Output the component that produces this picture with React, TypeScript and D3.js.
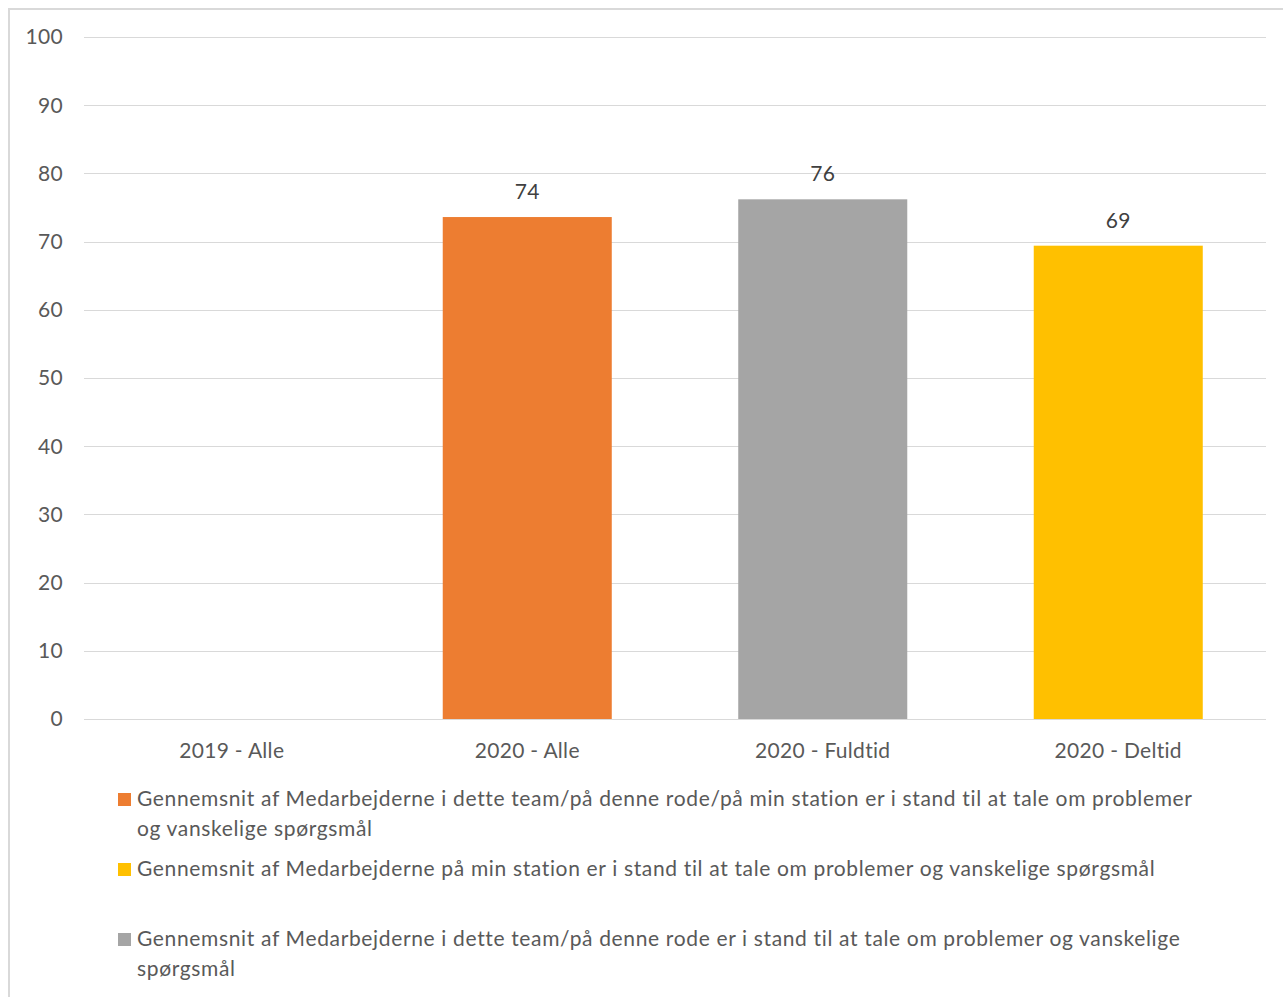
import React, { useEffect, useRef } from "react";
import * as d3 from "d3";

const categories = ["2019 - Alle", "2020 - Alle", "2020 - Fuldtid", "2020 - Deltid"];
const barValues: (number | null)[] = [null, 73.6, 76.2, 69.4];
const barLabels: (string | null)[] = [null, "74", "76", "69"];
const barSeries: (number | null)[] = [null, 0, 2, 1];
const yTicks = [0, 10, 20, 30, 40, 50, 60, 70, 80, 90, 100];
const seriesNames = [
  "Gennemsnit af Medarbejderne i dette team/på denne rode/på min station er i stand til at tale om problemer og vanskelige spørgsmål",
  "Gennemsnit af Medarbejderne på min station er i stand til at tale om problemer og vanskelige spørgsmål",
  "Gennemsnit af Medarbejderne i dette team/på denne rode er i stand til at tale om problemer og vanskelige spørgsmål",
];
const seriesColors = ["#ED7D31", "#FFC000", "#A5A5A5"];

const W = 1283;
const H = 997;
const FONT = "Lato, 'Open Sans', sans-serif";

export default function App() {
  const ref = useRef<SVGSVGElement | null>(null);

  useEffect(() => {
    const svg = d3.select(ref.current);
    svg.selectAll("*").remove();

    svg.append("rect").attr("x", 0).attr("y", 0).attr("width", W).attr("height", H).attr("fill", "#fff");
    svg.append("rect").attr("x", 9).attr("y", 9).attr("width", W + 20).attr("height", H + 20)
      .attr("fill", "none").attr("stroke", "#d9d9d9").attr("stroke-width", 2);

    const left = 84, right = 1266, top = 37, bottom = 719;
    const x = d3.scaleBand<string>().domain(categories).range([left, right]).padding(0);
    const y = d3.scaleLinear().domain([0, 100]).range([bottom, top]);

    const g = svg.append("g");
    g.selectAll("line.grid").data(yTicks).enter().append("line")
      .attr("x1", left).attr("x2", right)
      .attr("y1", (d) => Math.round(y(d)) + 0.5).attr("y2", (d) => Math.round(y(d)) + 0.5)
      .attr("stroke", "#d9d9d9").attr("stroke-width", 1);

    g.selectAll("text.yt").data(yTicks).enter().append("text")
      .attr("x", 63).attr("y", (d) => y(d)).attr("dy", "0.35em")
      .attr("text-anchor", "end").attr("font-family", FONT).attr("font-size", 21)
      .attr("letter-spacing", 0.3)
      .attr("fill", "#595959").text((d) => String(d));

    const bw = x.bandwidth() * 0.572;
    categories.forEach((c, i) => {
      const v = barValues[i];
      const cx = (x(c) as number) + x.bandwidth() / 2;
      g.append("text").attr("x", cx).attr("y", 758).attr("text-anchor", "middle")
        .attr("font-family", FONT).attr("font-size", 21).attr("letter-spacing", 0.3)
        .attr("fill", "#595959").text(c);
      if (v == null) return;
      const s = barSeries[i] as number;
      g.append("rect").attr("x", cx - bw / 2).attr("y", y(v)).attr("width", bw)
        .attr("height", y(0) - y(v)).attr("fill", seriesColors[s]);
      g.append("text").attr("x", cx).attr("y", y(v) - 18).attr("text-anchor", "middle")
        .attr("font-family", FONT).attr("font-size", 21).attr("letter-spacing", 0.3)
        .attr("fill", "#404040").text(barLabels[i] as string);
    });

    // legend
    const legendY = [806, 876, 946];
    const maxW = 1068;
    const lg = svg.append("g");
    seriesNames.forEach((name, i) => {
      lg.append("rect").attr("x", 118).attr("y", legendY[i] - 13).attr("width", 13).attr("height", 13)
        .attr("fill", seriesColors[i]);
      const t = lg.append("text").attr("x", 137).attr("y", legendY[i])
        .attr("font-family", FONT).attr("font-size", 21).attr("letter-spacing", 0.65)
        .attr("fill", "#595959");
      const words = name.split(" ");
      let line: string[] = [];
      let ts = t.append("tspan").attr("x", 137).attr("dy", 0);
      for (const w of words) {
        line.push(w);
        ts.text(line.join(" "));
        const node = ts.node() as SVGTSpanElement;
        if (node.getComputedTextLength() > maxW && line.length > 1) {
          line.pop();
          ts.text(line.join(" "));
          line = [w];
          ts = t.append("tspan").attr("x", 137).attr("dy", 30).text(w);
        }
      }
    });
  }, []);

  return <svg ref={ref} width={W} height={H} style={{ display: "block", position: "absolute", left: 0, top: 0 }} />;
}
